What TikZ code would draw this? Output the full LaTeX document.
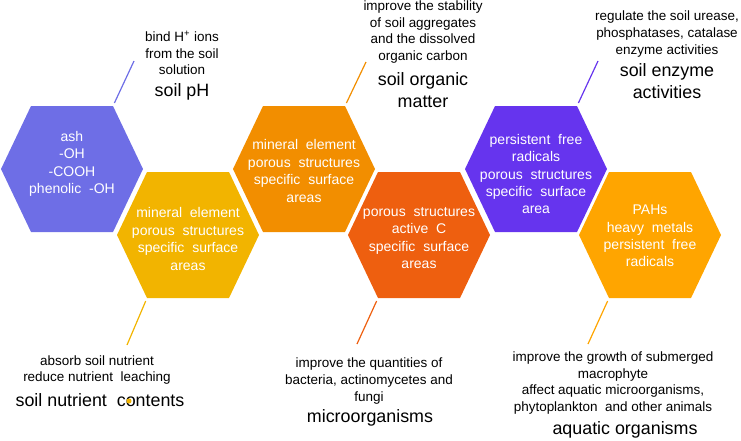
\documentclass[tikz,border=0pt]{standalone}
\usepackage{fontspec}
\setmainfont{Liberation Sans}
\usetikzlibrary{positioning}
\definecolor{cA}{HTML}{6E6EE6}
\definecolor{cB}{HTML}{F2B400}
\definecolor{cC}{HTML}{F28E00}
\definecolor{cD}{HTML}{EE5F0F}
\definecolor{cE}{HTML}{6634EE}
\definecolor{cF}{HTML}{FFA500}
\newcommand{\hexfont}{\fontsize{10.5pt}{13.1pt}\selectfont}
\newcommand{\descfont}{\fontsize{10.1pt}{12.4pt}\selectfont}
\newcommand{\headfont}{\fontsize{13.4pt}{16.4pt}\selectfont}

\begin{document}
\begin{tikzpicture}[x=0.75pt, y=-0.75pt,
      hextext/.style={text=white, align=center, inner sep=0pt, font=\hexfont},
      desc/.style={align=center, inner sep=0pt, font=\descfont},
      head/.style={align=center, inner sep=0pt, font=\headfont},
      link/.style={line width=0.9pt, shorten <=2.5pt}]
    \useasboundingbox (0,0) rectangle (741,440);
    % hexagon / centre x / centre y / fill
    \foreach \n/\cx/\cy/\fc in {
        h1/72/169/cA, h2/188/235/cB, h3/304/169/cC,
        h4/419/235/cD, h5/536/169/cE, h6/650/235/cF} {
      \fill[\fc] (\cx-71,\cy) -- (\cx-41,\cy-63) -- (\cx+41,\cy-63)
        -- (\cx+71,\cy) -- (\cx+41,\cy+63) -- (\cx-41,\cy+63) -- cycle;
      \coordinate (\n-tr) at (\cx+41,\cy-63);
      \coordinate (\n-bl) at (\cx-41,\cy+63);
    }
    \node[hextext] (t1) at (72,164) {ash\\-OH\\-COOH\\phenolic~ -OH};
    \node[hextext] (t2) at (188,239) {mineral~ element\\porous~ structures\\specific~ surface\\areas};
    \node[hextext] (t3) at (304,171) {mineral~ element\\porous~ structures\\specific~ surface\\areas};
    \node[hextext] (t4) at (419,238) {porous~ structures\\active~ C\\specific~ surface\\areas};
    \node[hextext] (t5) at (536,174) {persistent~ free\\radicals\\porous~ structures\\specific~ surface\\area};
    \node[hextext] (t6) at (650,236) {PAHs\\heavy~ metals\\persistent~ free\\radicals};
    % effects above
    \node[desc] (ph) at (182,53) {bind H\textsuperscript{+} ions\\from the soil\\solution};
    \node[head] (ph-head) at (182,92) {soil pH};
    \node[desc] (som) at (423,32) {improve the stability\\of soil aggregates\\and the dissolved\\organic carbon};
    \node[head] (som-head) at (423,90) {soil organic\\matter};
    \node[desc] (enz) at (667,34) {regulate the soil urease,\\phosphatases, catalase\\enzyme activities};
    \node[head] (enz-head) at (667,81) {soil enzyme\\activities};
    % effects below
    \node[desc] (nut) at (97,370) {absorb soil nutrient\\reduce nutrient~ leaching};
    \node[head] (nut-head) at (100,400) {soil nutrient~ contents};
    \node[desc] (mic) at (369,381) {improve the quantities of\\bacteria, actinomycetes and\\fungi};
    \node[head] (mic-head) at (370,418) {microorganisms};
    \node[desc] (aqu) at (613,383) {improve the growth of submerged\\macrophyte\\affect aquatic microorganisms,\\phytoplankton~ and other animals};
    \node[head] (aqu-head) at (625,430) {aquatic organisms};
    \coordinate (ph-end) at (134,61);
    \coordinate (som-end) at (366,62);
    \coordinate (enz-end) at (598,61);
    \coordinate (nut-end) at (127,345);
    \coordinate (mic-end) at (357,344);
    \coordinate (aqu-end) at (588,344);
    \draw[link, cA] (h1-tr) -- (ph-end);
    \draw[link, cC] (h3-tr) -- (som-end);
    \draw[link, cE] (h5-tr) -- (enz-end);
    \draw[link, cB] (h2-bl) -- (nut-end);
    \draw[link, cD] (h4-bl) -- (mic-end);
    \draw[link, cF] (h6-bl) -- (aqu-end);
    \fill[cB] (129,401) circle (1.9pt);
  \end{tikzpicture}
\end{document}
